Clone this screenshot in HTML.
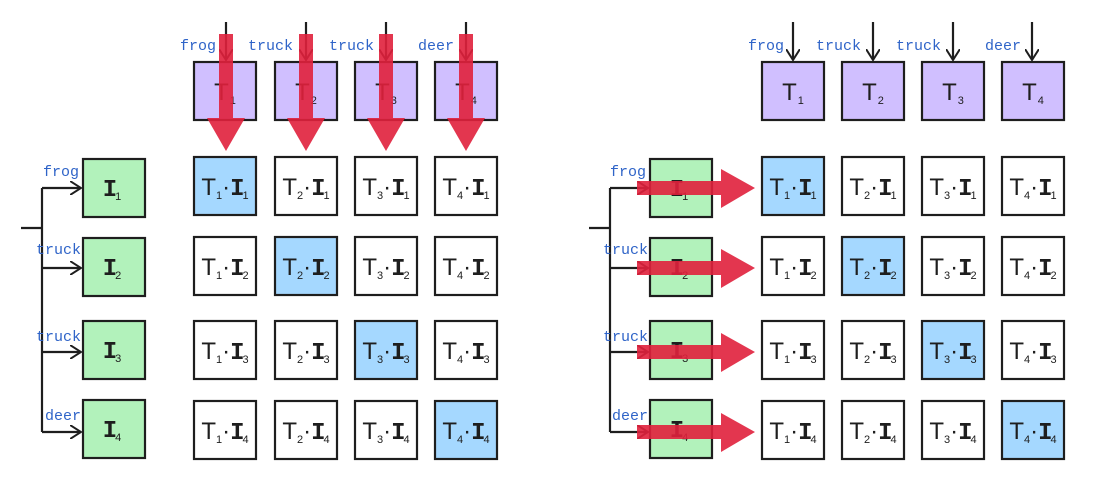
<!DOCTYPE html>
<html><head><meta charset="utf-8"><style>
body{margin:0;background:#fff;width:1095px;height:487px;overflow:hidden}
svg{display:block}
.b{stroke:#1e1e1e;stroke-width:2.2;}
.m{font-family:"Liberation Sans",sans-serif;font-size:24px;fill:#1e1e1e;text-anchor:middle}
.i{font-family:"Liberation Mono",monospace;font-weight:bold}
.s{font-size:11px;font-family:"Liberation Sans",sans-serif;font-weight:normal}
.l{font-family:"Liberation Mono",monospace;font-size:15px;fill:#2f64c8}
.ln{stroke:#1e1e1e;stroke-width:2.2;fill:none}
.red{fill:#e0203c;fill-opacity:0.9}
</style></head><body>
<svg width="1095" height="487" viewBox="0 0 1095 487" xmlns="http://www.w3.org/2000/svg">
<defs>
<marker id="ar" markerWidth="12" markerHeight="14" refX="11" refY="7" orient="auto" markerUnits="userSpaceOnUse">
<path d="M0,0 L11,7 L0,14" fill="none" stroke="#1e1e1e" stroke-width="2"/></marker>
</defs>

<!-- LEFT PANEL -->
<g>
<line class="ln" x1="226" y1="22" x2="226" y2="60" marker-end="url(#ar)"/>
<line class="ln" x1="306" y1="22" x2="306" y2="60" marker-end="url(#ar)"/>
<line class="ln" x1="386" y1="22" x2="386" y2="60" marker-end="url(#ar)"/>
<line class="ln" x1="466" y1="22" x2="466" y2="60" marker-end="url(#ar)"/>
<text class="l" x="180" y="50">frog</text>
<text class="l" x="248" y="50">truck</text>
<text class="l" x="329" y="50">truck</text>
<text class="l" x="418" y="50">deer</text>
<rect class="b" x="194" y="62" width="62" height="58" fill="#d0bfff"/>
<rect class="b" x="275" y="62" width="62" height="58" fill="#d0bfff"/>
<rect class="b" x="355" y="62" width="62" height="58" fill="#d0bfff"/>
<rect class="b" x="435" y="62" width="62" height="58" fill="#d0bfff"/>
<text class="m" x="225" y="100">T<tspan class="s" dx="1" dy="4">1</tspan></text>
<text class="m" x="306" y="100">T<tspan class="s" dx="1" dy="4">2</tspan></text>
<text class="m" x="386" y="100">T<tspan class="s" dx="1" dy="4">3</tspan></text>
<text class="m" x="466" y="100">T<tspan class="s" dx="1" dy="4">4</tspan></text>

<polyline class="ln" points="21,228 42,228"/>
<line class="ln" x1="42" y1="188" x2="42" y2="432"/>
<line class="ln" x1="42" y1="188" x2="81" y2="188" marker-end="url(#ar)"/>
<line class="ln" x1="42" y1="268" x2="81" y2="268" marker-end="url(#ar)"/>
<line class="ln" x1="42" y1="352" x2="81" y2="352" marker-end="url(#ar)"/>
<line class="ln" x1="42" y1="432" x2="81" y2="432" marker-end="url(#ar)"/>
<text class="l" x="43" y="176">frog</text>
<text class="l" x="36" y="254">truck</text>
<text class="l" x="36" y="341">truck</text>
<text class="l" x="45" y="420">deer</text>
<rect class="b" x="83" y="159" width="62" height="58" fill="#b2f2bb"/>
<rect class="b" x="83" y="238" width="62" height="58" fill="#b2f2bb"/>
<rect class="b" x="83" y="321" width="62" height="58" fill="#b2f2bb"/>
<rect class="b" x="83" y="400" width="62" height="58" fill="#b2f2bb"/>
<text class="m i" x="112" y="196">I<tspan class="s" dx="-2" dy="4">1</tspan></text>
<text class="m i" x="112" y="275">I<tspan class="s" dx="-2" dy="4">2</tspan></text>
<text class="m i" x="112" y="358">I<tspan class="s" dx="-2" dy="4">3</tspan></text>
<text class="m i" x="112" y="437">I<tspan class="s" dx="-2" dy="4">4</tspan></text>

<g>
<rect class="b" x="194" y="157" width="62" height="58" fill="#a5d8ff"/>
<rect class="b" x="275" y="157" width="62" height="58" fill="#fff"/>
<rect class="b" x="355" y="157" width="62" height="58" fill="#fff"/>
<rect class="b" x="435" y="157" width="62" height="58" fill="#fff"/>
<rect class="b" x="194" y="237" width="62" height="58" fill="#fff"/>
<rect class="b" x="275" y="237" width="62" height="58" fill="#a5d8ff"/>
<rect class="b" x="355" y="237" width="62" height="58" fill="#fff"/>
<rect class="b" x="435" y="237" width="62" height="58" fill="#fff"/>
<rect class="b" x="194" y="321" width="62" height="58" fill="#fff"/>
<rect class="b" x="275" y="321" width="62" height="58" fill="#fff"/>
<rect class="b" x="355" y="321" width="62" height="58" fill="#a5d8ff"/>
<rect class="b" x="435" y="321" width="62" height="58" fill="#fff"/>
<rect class="b" x="194" y="401" width="62" height="58" fill="#fff"/>
<rect class="b" x="275" y="401" width="62" height="58" fill="#fff"/>
<rect class="b" x="355" y="401" width="62" height="58" fill="#fff"/>
<rect class="b" x="435" y="401" width="62" height="58" fill="#a5d8ff"/>
<text class="m" x="225" y="195">T<tspan class="s" dy="4">1</tspan><tspan dy="-4">·</tspan><tspan class="i">I</tspan><tspan class="s" dx="-2" dy="4">1</tspan></text>
<text class="m" x="306" y="195">T<tspan class="s" dy="4">2</tspan><tspan dy="-4">·</tspan><tspan class="i">I</tspan><tspan class="s" dx="-2" dy="4">1</tspan></text>
<text class="m" x="386" y="195">T<tspan class="s" dy="4">3</tspan><tspan dy="-4">·</tspan><tspan class="i">I</tspan><tspan class="s" dx="-2" dy="4">1</tspan></text>
<text class="m" x="466" y="195">T<tspan class="s" dy="4">4</tspan><tspan dy="-4">·</tspan><tspan class="i">I</tspan><tspan class="s" dx="-2" dy="4">1</tspan></text>
<text class="m" x="225" y="275">T<tspan class="s" dy="4">1</tspan><tspan dy="-4">·</tspan><tspan class="i">I</tspan><tspan class="s" dx="-2" dy="4">2</tspan></text>
<text class="m" x="306" y="275">T<tspan class="s" dy="4">2</tspan><tspan dy="-4">·</tspan><tspan class="i">I</tspan><tspan class="s" dx="-2" dy="4">2</tspan></text>
<text class="m" x="386" y="275">T<tspan class="s" dy="4">3</tspan><tspan dy="-4">·</tspan><tspan class="i">I</tspan><tspan class="s" dx="-2" dy="4">2</tspan></text>
<text class="m" x="466" y="275">T<tspan class="s" dy="4">4</tspan><tspan dy="-4">·</tspan><tspan class="i">I</tspan><tspan class="s" dx="-2" dy="4">2</tspan></text>
<text class="m" x="225" y="359">T<tspan class="s" dy="4">1</tspan><tspan dy="-4">·</tspan><tspan class="i">I</tspan><tspan class="s" dx="-2" dy="4">3</tspan></text>
<text class="m" x="306" y="359">T<tspan class="s" dy="4">2</tspan><tspan dy="-4">·</tspan><tspan class="i">I</tspan><tspan class="s" dx="-2" dy="4">3</tspan></text>
<text class="m" x="386" y="359">T<tspan class="s" dy="4">3</tspan><tspan dy="-4">·</tspan><tspan class="i">I</tspan><tspan class="s" dx="-2" dy="4">3</tspan></text>
<text class="m" x="466" y="359">T<tspan class="s" dy="4">4</tspan><tspan dy="-4">·</tspan><tspan class="i">I</tspan><tspan class="s" dx="-2" dy="4">3</tspan></text>
<text class="m" x="225" y="439">T<tspan class="s" dy="4">1</tspan><tspan dy="-4">·</tspan><tspan class="i">I</tspan><tspan class="s" dx="-2" dy="4">4</tspan></text>
<text class="m" x="306" y="439">T<tspan class="s" dy="4">2</tspan><tspan dy="-4">·</tspan><tspan class="i">I</tspan><tspan class="s" dx="-2" dy="4">4</tspan></text>
<text class="m" x="386" y="439">T<tspan class="s" dy="4">3</tspan><tspan dy="-4">·</tspan><tspan class="i">I</tspan><tspan class="s" dx="-2" dy="4">4</tspan></text>
<text class="m" x="466" y="439">T<tspan class="s" dy="4">4</tspan><tspan dy="-4">·</tspan><tspan class="i">I</tspan><tspan class="s" dx="-2" dy="4">4</tspan></text>
</g>
<path class="red" d="M219,34 H233 V118 H245 L226,151 L207,118 H219 Z"/>
<path class="red" d="M299,34 H313 V118 H325 L306,151 L287,118 H299 Z"/>
<path class="red" d="M379,34 H393 V118 H405 L386,151 L367,118 H379 Z"/>
<path class="red" d="M459,34 H473 V118 H485 L466,151 L447,118 H459 Z"/>
</g>

<!-- RIGHT PANEL -->
<g>
<line class="ln" x1="793" y1="22" x2="793" y2="60" marker-end="url(#ar)"/>
<line class="ln" x1="873" y1="22" x2="873" y2="60" marker-end="url(#ar)"/>
<line class="ln" x1="953" y1="22" x2="953" y2="60" marker-end="url(#ar)"/>
<line class="ln" x1="1032" y1="22" x2="1032" y2="60" marker-end="url(#ar)"/>
<text class="l" x="748" y="50">frog</text>
<text class="l" x="816" y="50">truck</text>
<text class="l" x="896" y="50">truck</text>
<text class="l" x="985" y="50">deer</text>
<rect class="b" x="762" y="62" width="62" height="58" fill="#d0bfff"/>
<rect class="b" x="842" y="62" width="62" height="58" fill="#d0bfff"/>
<rect class="b" x="922" y="62" width="62" height="58" fill="#d0bfff"/>
<rect class="b" x="1002" y="62" width="62" height="58" fill="#d0bfff"/>
<text class="m" x="793" y="100">T<tspan class="s" dx="1" dy="4">1</tspan></text>
<text class="m" x="873" y="100">T<tspan class="s" dx="1" dy="4">2</tspan></text>
<text class="m" x="953" y="100">T<tspan class="s" dx="1" dy="4">3</tspan></text>
<text class="m" x="1033" y="100">T<tspan class="s" dx="1" dy="4">4</tspan></text>

<polyline class="ln" points="589,228 610,228"/>
<line class="ln" x1="610" y1="188" x2="610" y2="432"/>
<line class="ln" x1="610" y1="188" x2="648" y2="188" marker-end="url(#ar)"/>
<line class="ln" x1="610" y1="268" x2="648" y2="268" marker-end="url(#ar)"/>
<line class="ln" x1="610" y1="352" x2="648" y2="352" marker-end="url(#ar)"/>
<line class="ln" x1="610" y1="432" x2="648" y2="432" marker-end="url(#ar)"/>
<text class="l" x="610" y="176">frog</text>
<text class="l" x="603" y="254">truck</text>
<text class="l" x="603" y="341">truck</text>
<text class="l" x="612" y="420">deer</text>
<rect class="b" x="650" y="159" width="62" height="58" fill="#b2f2bb"/>
<rect class="b" x="650" y="238" width="62" height="58" fill="#b2f2bb"/>
<rect class="b" x="650" y="321" width="62" height="58" fill="#b2f2bb"/>
<rect class="b" x="650" y="400" width="62" height="58" fill="#b2f2bb"/>
<text class="m i" x="679" y="196">I<tspan class="s" dx="-2" dy="4">1</tspan></text>
<text class="m i" x="679" y="275">I<tspan class="s" dx="-2" dy="4">2</tspan></text>
<text class="m i" x="679" y="358">I<tspan class="s" dx="-2" dy="4">3</tspan></text>
<text class="m i" x="679" y="437">I<tspan class="s" dx="-2" dy="4">4</tspan></text>

<rect class="b" x="762" y="157" width="62" height="58" fill="#a5d8ff"/>
<rect class="b" x="842" y="157" width="62" height="58" fill="#fff"/>
<rect class="b" x="922" y="157" width="62" height="58" fill="#fff"/>
<rect class="b" x="1002" y="157" width="62" height="58" fill="#fff"/>
<rect class="b" x="762" y="237" width="62" height="58" fill="#fff"/>
<rect class="b" x="842" y="237" width="62" height="58" fill="#a5d8ff"/>
<rect class="b" x="922" y="237" width="62" height="58" fill="#fff"/>
<rect class="b" x="1002" y="237" width="62" height="58" fill="#fff"/>
<rect class="b" x="762" y="321" width="62" height="58" fill="#fff"/>
<rect class="b" x="842" y="321" width="62" height="58" fill="#fff"/>
<rect class="b" x="922" y="321" width="62" height="58" fill="#a5d8ff"/>
<rect class="b" x="1002" y="321" width="62" height="58" fill="#fff"/>
<rect class="b" x="762" y="401" width="62" height="58" fill="#fff"/>
<rect class="b" x="842" y="401" width="62" height="58" fill="#fff"/>
<rect class="b" x="922" y="401" width="62" height="58" fill="#fff"/>
<rect class="b" x="1002" y="401" width="62" height="58" fill="#a5d8ff"/>
<text class="m" x="793" y="195">T<tspan class="s" dy="4">1</tspan><tspan dy="-4">·</tspan><tspan class="i">I</tspan><tspan class="s" dx="-2" dy="4">1</tspan></text>
<text class="m" x="873" y="195">T<tspan class="s" dy="4">2</tspan><tspan dy="-4">·</tspan><tspan class="i">I</tspan><tspan class="s" dx="-2" dy="4">1</tspan></text>
<text class="m" x="953" y="195">T<tspan class="s" dy="4">3</tspan><tspan dy="-4">·</tspan><tspan class="i">I</tspan><tspan class="s" dx="-2" dy="4">1</tspan></text>
<text class="m" x="1033" y="195">T<tspan class="s" dy="4">4</tspan><tspan dy="-4">·</tspan><tspan class="i">I</tspan><tspan class="s" dx="-2" dy="4">1</tspan></text>
<text class="m" x="793" y="275">T<tspan class="s" dy="4">1</tspan><tspan dy="-4">·</tspan><tspan class="i">I</tspan><tspan class="s" dx="-2" dy="4">2</tspan></text>
<text class="m" x="873" y="275">T<tspan class="s" dy="4">2</tspan><tspan dy="-4">·</tspan><tspan class="i">I</tspan><tspan class="s" dx="-2" dy="4">2</tspan></text>
<text class="m" x="953" y="275">T<tspan class="s" dy="4">3</tspan><tspan dy="-4">·</tspan><tspan class="i">I</tspan><tspan class="s" dx="-2" dy="4">2</tspan></text>
<text class="m" x="1033" y="275">T<tspan class="s" dy="4">4</tspan><tspan dy="-4">·</tspan><tspan class="i">I</tspan><tspan class="s" dx="-2" dy="4">2</tspan></text>
<text class="m" x="793" y="359">T<tspan class="s" dy="4">1</tspan><tspan dy="-4">·</tspan><tspan class="i">I</tspan><tspan class="s" dx="-2" dy="4">3</tspan></text>
<text class="m" x="873" y="359">T<tspan class="s" dy="4">2</tspan><tspan dy="-4">·</tspan><tspan class="i">I</tspan><tspan class="s" dx="-2" dy="4">3</tspan></text>
<text class="m" x="953" y="359">T<tspan class="s" dy="4">3</tspan><tspan dy="-4">·</tspan><tspan class="i">I</tspan><tspan class="s" dx="-2" dy="4">3</tspan></text>
<text class="m" x="1033" y="359">T<tspan class="s" dy="4">4</tspan><tspan dy="-4">·</tspan><tspan class="i">I</tspan><tspan class="s" dx="-2" dy="4">3</tspan></text>
<text class="m" x="793" y="439">T<tspan class="s" dy="4">1</tspan><tspan dy="-4">·</tspan><tspan class="i">I</tspan><tspan class="s" dx="-2" dy="4">4</tspan></text>
<text class="m" x="873" y="439">T<tspan class="s" dy="4">2</tspan><tspan dy="-4">·</tspan><tspan class="i">I</tspan><tspan class="s" dx="-2" dy="4">4</tspan></text>
<text class="m" x="953" y="439">T<tspan class="s" dy="4">3</tspan><tspan dy="-4">·</tspan><tspan class="i">I</tspan><tspan class="s" dx="-2" dy="4">4</tspan></text>
<text class="m" x="1033" y="439">T<tspan class="s" dy="4">4</tspan><tspan dy="-4">·</tspan><tspan class="i">I</tspan><tspan class="s" dx="-2" dy="4">4</tspan></text>

<path class="red" d="M637,181 H721 V169 L755,188 L721,208 V195 H637 Z"/>
<path class="red" d="M637,261 H721 V249 L755,268 L721,288 V275 H637 Z"/>
<path class="red" d="M637,345 H721 V333 L755,352 L721,372 V359 H637 Z"/>
<path class="red" d="M637,425 H721 V413 L755,432 L721,452 V439 H637 Z"/>
</g>
</svg>
</body></html>
